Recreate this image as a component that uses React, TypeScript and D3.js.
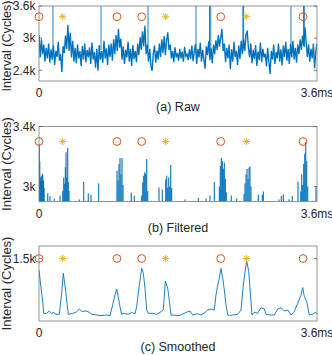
import React from "react";
import * as d3 from "d3";

// ---------- data ----------
const timeDomain = [0, 3.6];
const xTickValues = [0, 3.6];
const xTickLabels = ["0", "3.6ms"];

// Raw interval series (cycles), evenly sampled over 0..3.6 ms
const rawValues = [
  3060, 2640, 2980, 2700, 2880, 2560, 2820, 2620, 2900, 2540,
  2790, 2600, 2860, 2500, 2760, 2650, 2930, 2580, 2700, 2370,
  2850, 2720, 3050, 2800, 3250, 2760, 3100, 2640, 2950, 2560,
  2820, 2530, 2880, 2620, 2760, 2480, 2850, 2600, 2900, 2550,
  2780, 2640, 2830, 2520, 2920, 2600, 2740, 2450, 2800, 2390,
  2870, 2600, 2760, 2540, 2950, 2620, 2810, 2500, 2880, 2650,
  2900, 2580, 2980, 2700, 3060, 2760, 3170, 2820, 2990, 2600,
  2850, 2520, 2780, 2640, 2930, 2560, 2800, 2480, 2870, 2610,
  2760, 2550, 2900, 2680, 3020, 2780, 3130, 2850, 3230, 2700,
  2880, 2560, 2800, 2480, 2390, 2720, 2860, 2540, 2770, 2600,
  2900, 2650, 2980, 2720, 3040, 2680, 2950, 3110, 2780, 2880,
  2620, 2760, 2550, 2830, 2640, 2720, 2580, 2800, 2620, 2750,
  2560, 2840, 2660, 2700, 2590, 2790, 2610, 2860, 2570, 2740,
  2890, 2520, 2800, 2640, 2920, 2560, 2780, 2600, 2430, 2850,
  2680, 2940, 2590, 2810, 2530, 2880, 2700, 2960, 2780, 3060,
  2840, 3010, 3170, 2760, 2900, 2550, 2820, 2620, 2880, 2420,
  2790, 2560, 2930, 2650, 2760, 2500, 2860, 2610, 2950, 2700,
  2980, 2760, 3060, 3140, 2820, 2640, 2900, 2530, 2780, 2610,
  2870, 2480, 2750, 2590, 2920, 2550, 2800, 2640, 2710, 2470,
  2820, 2560, 2330, 2760, 2600, 2880, 2520, 2740, 2620, 2900,
  2560, 2790, 2490, 2860, 2650, 2930, 2580, 2800, 2520, 2890,
  2640, 2950, 2600, 2820, 2540, 2880, 2700, 2980, 2780, 3050,
  2860, 3200, 2920, 2650, 2880, 2560, 2800, 2620, 2900, 2440,
  2760, 2900,
];
// Tall outliers in the raw series
const rawSpikeTimes = [0.181, 0.803, 1.412, 2.033, 2.208, 2.224, 2.640, 2.650, 3.263, 3.426, 3.436];
const rawSpikeBase = [2750, 2780, 2800, 2720, 2760, 2740, 2800, 2790, 2720, 2850, 2830];
const rawSpikeTop = [5000, 5000, 5000, 5000, 5000, 5000, 5000, 5000, 5000, 5000, 5000];

// Filtered series (only samples above threshold)
const filtTimes = [
  0.004, 0.010, 0.017, 0.023, 0.030, 0.036, 0.043, 0.049, 0.058, 0.067,
  0.113, 0.142, 0.198, 0.272,
  0.307, 0.320, 0.333, 0.341, 0.350, 0.359, 0.372, 0.379, 0.389,
  0.522, 0.579, 0.638, 0.673, 0.773,
  1.010, 1.023, 1.036, 1.049, 1.062, 1.075, 1.088,
  1.195, 1.234,
  1.330, 1.343, 1.356, 1.369, 1.382, 1.395, 1.408,
  1.459, 1.554, 1.597,
  1.641, 1.654, 1.667, 1.680, 1.693, 1.706, 1.718,
  1.891, 2.063, 2.163, 2.214, 2.270,
  2.335, 2.348, 2.361, 2.374, 2.387, 2.400, 2.413, 2.426,
  2.490, 2.560,
  2.655, 2.668, 2.681, 2.694, 2.707, 2.720, 2.732, 2.745,
  2.840, 2.892, 2.905, 3.108, 3.138, 3.164, 3.238, 3.280, 3.354,
  3.389, 3.402, 3.415, 3.428, 3.441, 3.454, 3.467, 3.480,
  3.587,
];
const filtValues = [
  3280, 3165, 3060, 3035, 3070, 3045, 3085, 3080, 3040, 2990,
  2955, 2935, 2920, 2940,
  2970, 3060, 3020, 3128, 3229, 3060, 3258, 3030, 2970,
  2913, 3030, 2955, 2945, 3022,
  3105, 3040, 3150, 3190, 3080, 3190, 3010,
  2960, 2939,
  2940, 3026, 3071, 3095, 3084, 3184, 2970,
  2905, 2993, 2980,
  3049, 3071, 2993, 3060, 3000, 3143, 2990,
  2913, 2925, 2920, 2940, 3030,
  3000, 3139, 3190, 3170, 3120, 3160, 3050, 2960,
  2940, 2920,
  2950, 3020, 3082, 3116, 3050, 3127, 3134, 3000,
  2947, 2945, 2966, 2913, 2936, 2947, 2915, 2936, 3033,
  2966, 3082, 3010, 3150, 3218, 3295, 3170, 3000,
  3000,
];

// Smoothed series
const smoothTimes = [
  0, 0.022, 0.048, 0.061, 0.100, 0.133, 0.164, 0.185, 0.220, 0.263,
  0.294, 0.315, 0.346, 0.379, 0.436, 0.479, 0.522, 0.553, 0.609, 0.651,
  0.682, 0.747, 0.790, 0.877, 0.920, 0.954, 0.984, 1.006, 1.027, 1.049,
  1.071, 1.092, 1.156, 1.200, 1.243, 1.265, 1.299, 1.330, 1.351, 1.373,
  1.395, 1.415, 1.480, 1.524, 1.567, 1.610, 1.636, 1.667, 1.687, 1.709,
  1.817, 1.882, 1.926, 1.955, 1.990, 2.055, 2.098, 2.154, 2.185, 2.227,
  2.270, 2.292, 2.314, 2.335, 2.357, 2.379, 2.400, 2.422, 2.444, 2.464,
  2.508, 2.573, 2.616, 2.646, 2.668, 2.690, 2.716, 2.732, 2.758, 2.788,
  2.832, 2.875, 2.918, 2.940, 2.982, 3.047, 3.091, 3.134, 3.177, 3.221,
  3.263, 3.306, 3.350, 3.393, 3.415, 3.436, 3.467, 3.500, 3.544, 3.578,
  3.596,
];
const smoothValues = [
  1224, 864, 464, 184, 184, 240, 184, 208, 160, 160,
  664, 1144, 704, 160, 184, 208, 288, 232, 240, 208,
  160, 144, 128, 144, 128, 384, 624, 768, 584, 344,
  160, 184, 160, 208, 168, 344, 864, 1264, 1144, 784,
  264, 184, 184, 160, 208, 264, 960, 784, 504, 144,
  128, 184, 224, 240, 144, 176, 144, 208, 264, 288,
  264, 624, 864, 1024, 1264, 1024, 744, 384, 144, 128,
  144, 160, 264, 864, 1184, 1440, 1184, 784, 144, 208,
  184, 320, 288, 160, 144, 144, 288, 320, 240, 264,
  144, 232, 424, 624, 800, 584, 464, 144, 160, 208,
  184,
];

// Event markers
const circleTimes = [0, 1.01, 1.33, 2.353, 3.419];
const starTimes = [0.307, 1.64, 2.685];

// Per-panel axes
const rawDomain = [2200, 3600];
const rawTicks = [2400, 3000, 3600];
const rawTickLabels = ["2.4k", "3k", "3.6k"];
const filtDomain = [2900, 3400];
const filtTicks = [3000, 3400];
const filtTickLabels = ["3k", "3.4k"];
const smoothDomain = [0, 1800];
const smoothTicks = [1500];
const smoothTickLabels = ["1.5k"];
const markerLevels = [3400, 3300, 1500];
const captions = ["(a) Raw", "(b) Filtered", "(c) Smoothed"];
const yLabel = "Interval (Cycles)";

// ---------- layout ----------
const W = 332;
const H = 355;
const left = 39;
const right = 317;
const panelTops = [6, 126.5, 246];
const panelH = 75;
const yLabelCenter = [46, 164, 283.5];
const yLabelSize = [12.6, 13, 13];
const BLUE = "#0072BD";
const ORANGE = "#D95319";
const YELLOW = "#EDB120";
const TXT = "#262626";
const FONT = "'Liberation Sans', Arial, Helvetica, sans-serif";

function Star({ cx, cy, r }: { cx: number; cy: number; r: number }) {
  const d = r * 0.72;
  return (
    <g stroke={YELLOW} strokeWidth={1}>
      <line x1={cx - r} y1={cy} x2={cx + r} y2={cy} />
      <line x1={cx} y1={cy - r} x2={cx} y2={cy + r} />
      <line x1={cx - d} y1={cy - d} x2={cx + d} y2={cy + d} />
      <line x1={cx - d} y1={cy + d} x2={cx + d} y2={cy - d} />
    </g>
  );
}

function Panel({
  idx,
  domain,
  ticks,
  tickLabels,
  children,
}: {
  idx: number;
  domain: number[];
  ticks: number[];
  tickLabels: string[];
  children: (x: d3.ScaleLinear<number, number>, y: d3.ScaleLinear<number, number>) => React.ReactNode;
}) {
  const top = panelTops[idx];
  const bottom = top + panelH;
  const x = d3.scaleLinear().domain(timeDomain).range([left, right]);
  const y = d3.scaleLinear().domain(domain).range([bottom, top]);
  const clipId = `clip${idx}`;
  const level = markerLevels[idx];
  return (
    <g>
      <defs>
        <clipPath id={clipId}>
          <rect x={left} y={top} width={right - left} height={panelH} />
        </clipPath>
      </defs>
      <g clipPath={`url(#${clipId})`}>{children(x, y)}</g>
      {circleTimes.map((t, i) => (
        <circle key={"c" + i} cx={x(t)} cy={y(level)} r={3.9} fill="none" stroke={ORANGE} strokeWidth={1} />
      ))}
      {starTimes.map((t, i) => (
        <Star key={"s" + i} cx={x(t)} cy={y(level)} r={3.6} />
      ))}
      <rect x={left} y={top} width={right - left} height={panelH} fill="none" stroke="#7a7a7a" strokeWidth={0.8} />
      {ticks.map((v, i) => (
        <g key={"t" + i}>
          <line x1={left} x2={left + 3} y1={y(v)} y2={y(v)} stroke="#555" strokeWidth={0.8} />
          <line x1={right - 3} x2={right} y1={y(v)} y2={y(v)} stroke="#555" strokeWidth={0.8} />
          <text x={left - 3.5} y={y(v) + 4.3} textAnchor="end" fontSize={12} fill={TXT} fontFamily={FONT}>
            {tickLabels[i]}
          </text>
        </g>
      ))}
      {xTickValues.map((t, i) => (
        <text key={"x" + i} x={x(t)} y={bottom + 16} textAnchor="middle" fontSize={12} fill={TXT} fontFamily={FONT}>
          {xTickLabels[i]}
        </text>
      ))}
      <text
        transform={`translate(11,${yLabelCenter[idx]}) rotate(-90)`}
        textAnchor="middle"
        fontSize={yLabelSize[idx]}
        fill={TXT}
        fontFamily={FONT}
      >
        {yLabel}
      </text>
      <text x={(left + right) / 2} y={bottom + 30} textAnchor="middle" fontSize={12.5} fill={TXT} fontFamily={FONT}>
        {captions[idx]}
      </text>
    </g>
  );
}

export default function App() {
  const rawTime = d3.scaleLinear().domain([0, rawValues.length - 1]).range(timeDomain);
  return (
    <svg
      width={W}
      height={H}
      viewBox={`0 0 ${W} ${H}`}
      style={{ position: "absolute", left: 0, top: 0, background: "#fff" }}
    >
      <rect width={W} height={H} fill="#fff" />
      <Panel idx={0} domain={rawDomain} ticks={rawTicks} tickLabels={rawTickLabels}>
        {(x, y) => {
          const line = d3
            .line<number>()
            .x((_, i) => x(rawTime(i)))
            .y((v) => y(v));
          return (
            <g>
              <path d={line(rawValues) || ""} fill="none" stroke={BLUE} strokeWidth={1.35} />
              {rawSpikeTimes.map((t, i) => (
                <line
                  key={i}
                  x1={x(t)}
                  x2={x(t)}
                  y1={y(rawSpikeBase[i])}
                  y2={y(rawSpikeTop[i])}
                  stroke={BLUE}
                  strokeWidth={0.9}
                />
              ))}
            </g>
          );
        }}
      </Panel>
      <Panel idx={1} domain={filtDomain} ticks={filtTicks} tickLabels={filtTickLabels}>
        {(x, y) => (
          <g>
            {filtTimes.map((t, i) => (
              <line
                key={i}
                x1={x(t)}
                x2={x(t)}
                y1={y(filtDomain[0])}
                y2={y(filtValues[i])}
                stroke={BLUE}
                strokeWidth={1.1}
              />
            ))}
          </g>
        )}
      </Panel>
      <Panel idx={2} domain={smoothDomain} ticks={smoothTicks} tickLabels={smoothTickLabels}>
        {(x, y) => {
          const line = d3
            .line<number>()
            .x((_, i) => x(smoothTimes[i]))
            .y((v) => y(v));
          return <path d={line(smoothValues) || ""} fill="none" stroke={BLUE} strokeWidth={0.9} />;
        }}
      </Panel>
    </svg>
  );
}
